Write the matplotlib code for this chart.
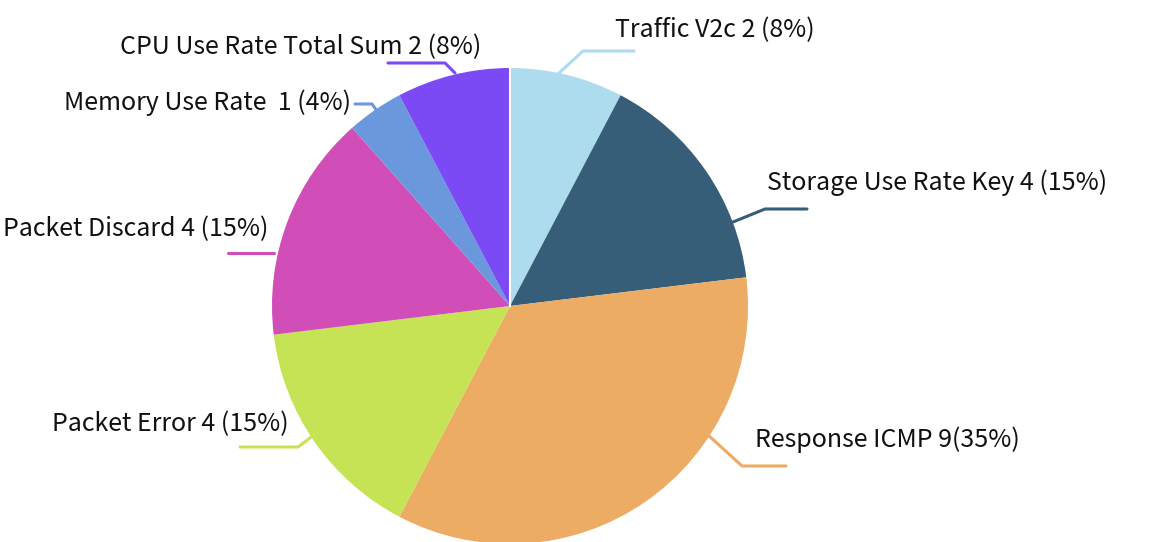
import matplotlib
matplotlib.use('Agg')
import matplotlib.pyplot as plt

plt.rcParams['font.family'] = ['Noto Sans CJK SC', 'DejaVu Sans']

# chart data
labels = ['Traffic V2c', 'Storage Use Rate Key', 'Response ICMP', 'Packet Error',
          'Packet Discard', 'Memory Use Rate ', 'CPU Use Rate Total Sum']
values = [2, 4, 9, 4, 4, 1, 2]
texts = ['Traffic V2c 2 (8%)', 'Storage Use Rate Key 4 (15%)', 'Response ICMP 9(35%)',
         'Packet Error 4 (15%)', 'Packet Discard 4 (15%)', 'Memory Use Rate  1 (4%)',
         'CPU Use Rate Total Sum 2 (8%)']
colors = ['#addcee', '#365e78', '#ecac64', '#c5e355', '#d14db8', '#6b98dc', '#7b4af5']

# layout (pixel coords, y down)
W, H = 1168, 542
cx, cy, R = 510, 306, 238
leaders = [
    [(558, 74), (583, 51), (634, 51)],
    [(733, 222), (765, 209), (807, 209)],
    [(708, 435), (742, 466), (786, 466)],
    [(318, 432), (298, 447), (240, 447)],
    [(274, 253), (274, 253), (228, 253)],
    [(377, 111), (372, 104), (355, 104)],
    [(455, 73), (445, 63), (388, 63)],
]
text_pos = [(615, 30, 'left'), (767, 183, 'left'), (755, 440, 'left'),
            (289, 424, 'right'), (268, 229, 'right'), (351, 103, 'right'),
            (481, 47, 'right')]

fig = plt.figure(figsize=(W / 100, H / 100), dpi=100)
ax = fig.add_axes([0, 0, 1, 1])

ax.pie(values, colors=colors, startangle=-90, counterclock=True,
       center=(cx, cy), radius=R, frame=True,
       wedgeprops=dict(linewidth=0))
ax.set_xlim(0, W)
ax.set_ylim(H, 0)
ax.set_aspect('equal')
ax.axis('off')

# thin white line at the start of the first slice
ax.plot([cx, cx], [cy, cy - R], color='white', lw=1.5)

for pts, col in zip(leaders, colors):
    xs = [p[0] for p in pts]
    ys = [p[1] for p in pts]
    ax.plot(xs, ys, color=col, lw=2.2, solid_capstyle='round')

for t, (x, y, ha) in zip(texts, text_pos):
    ax.text(x, y, t, ha=ha, va='center', fontsize=18, fontweight='medium',
            color='#111111')

fig.savefig('out.png', dpi=100)
